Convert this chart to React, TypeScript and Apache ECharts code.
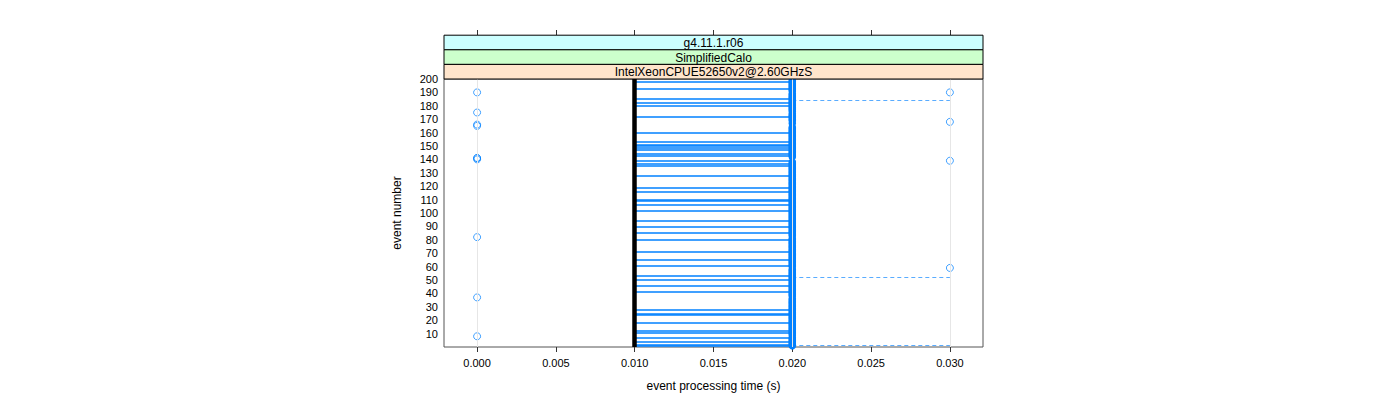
import React, { useEffect, useRef } from "react";
import * as echarts from "echarts";

// ---- data ----
const xTickValues = [0, 0.005, 0.01, 0.015, 0.02, 0.025, 0.03];
const stripLabels = ["g4.11.1.r06", "SimplifiedCalo", "IntelXeonCPUE52650v2@2.60GHzS"];
const stripColors = ["#ccffff", "#ccffcc", "#ffe5cc"];

// events whose time moved between 0.010 s and 0.020 s (horizontal segments)
const segmentEvents = [
  198, 193, 185, 182, 180, 172, 160, 153, 151, 150, 149, 147, 144, 143, 139, 137, 135,
  128, 119, 116, 110, 109, 106, 102, 94, 90, 85, 80, 71, 65, 61, 53, 50, 46, 41,
  28, 25, 24, 18, 12, 11, 7, 4, 2, 1,
];
// events at 0.020 s (points, forming a dense column)
const events020 = [
  1, 2, 3, 4, 5, 6, 7, 9, 10, 11, 12, 13, 14, 15, 16, 17, 18, 19, 20, 21, 22, 23, 24, 25,
  26, 27, 28, 29, 30, 31, 32, 33, 34, 35, 36, 38, 39, 40, 41, 42, 43, 44, 45, 46, 47, 48,
  49, 50, 51, 52, 53, 54, 55, 56, 57, 58, 60, 61, 62, 63, 64, 65, 66, 67, 68, 69, 70, 71,
  72, 73, 74, 75, 76, 77, 78, 79, 80, 81, 83, 84, 85, 86, 87, 88, 89, 90, 91, 92, 93, 94,
  95, 96, 97, 98, 99, 100, 101, 102, 103, 104, 105, 106, 107, 108, 109, 110, 111, 112,
  113, 114, 115, 116, 117, 118, 119, 120, 121, 122, 123, 124, 125, 126, 127, 128, 129,
  130, 131, 132, 133, 134, 135, 136, 137, 138, 142, 143, 144, 145, 146, 147, 148, 149,
  150, 151, 152, 153, 154, 155, 156, 157, 158, 159, 160, 161, 162, 163, 164, 167, 169,
  170, 171, 172, 173, 174, 176, 177, 178, 179, 180, 181, 182, 183, 184, 185, 186, 187,
  188, 189, 191, 192, 193, 194, 195, 196, 197, 198, 199,
];
// events at 0.000 s
const events000 = [8, 37, 82, 140, 141, 141, 165, 166, 175, 190];
// events at 0.030 s
const events030 = [59, 139, 168, 190];
// events with a jump between 0.020 s and 0.030 s (dashed segments)
const dashedEvents = [1, 52, 184];

const timeLow = 0.01;
const timeMid = 0.02;
const timeHigh = 0.03;
const timeZero = 0.0;

const xMin = -0.0021;
const xMax = 0.0321;

export default function App() {
  const ref = useRef<HTMLDivElement>(null);

  useEffect(() => {
    if (!ref.current) return;
    const chart = echarts.init(ref.current, null, { renderer: "svg" });
    const font = "Liberation Sans";
    const gridLeft = 444;
    const gridTop = 79;
    const gridW = 539;
    const gridH = 268;
    const stripH = 14.6;

    const graphics: any[] = [];
    stripLabels.forEach((lab, i) => {
      const y = gridTop - stripH * (stripLabels.length - i);
      graphics.push({
        type: "rect",
        shape: { x: gridLeft, y, width: gridW, height: stripH },
        style: { fill: stripColors[i], stroke: "#000", lineWidth: 1 },
        z: 10,
      });
      graphics.push({
        type: "text",
        style: {
          text: lab,
          x: gridLeft + gridW / 2,
          y: y + stripH / 2 + 0.5,
          align: "center",
          verticalAlign: "middle",
          font: `12px "${font}"`,
          fill: "#000",
        },
        z: 11,
      });
    });

    const circleStyle = { color: "rgba(0,0,0,0)", borderColor: "#0080ff", borderWidth: 1, opacity: 1 };

    const option: any = {
      animation: false,
      textStyle: { fontFamily: font },
      grid: {
        left: gridLeft,
        top: gridTop,
        width: gridW,
        height: gridH,
        show: true,
        borderColor: "#555",
        borderWidth: 1,
        backgroundColor: "#fff",
      },
      xAxis: [
        {
          type: "value",
          min: xMin,
          max: xMax,
          position: "bottom",
          name: "event processing time (s)",
          nameLocation: "middle",
          nameGap: 33,
          nameTextStyle: { fontSize: 12, color: "#000", fontFamily: font },
          axisLine: { show: false },
          splitLine: { show: false },
          axisTick: { show: true, length: 5, lineStyle: { color: "#333" }, customValues: xTickValues },
          axisLabel: {
            show: true,
            fontSize: 11,
            color: "#000",
            margin: 10,
            fontFamily: font,
            customValues: xTickValues,
            formatter: (v: number) => v.toFixed(3),
          },
        },
        {
          type: "value",
          min: xMin,
          max: xMax,
          position: "top",
          offset: 44,
          axisLine: { show: false },
          splitLine: { show: false },
          axisTick: { show: true, length: 5, lineStyle: { color: "#333" }, customValues: xTickValues },
          axisLabel: { show: false },
        },
      ],
      yAxis: {
        type: "value",
        min: 0,
        max: 200,
        interval: 10,
        name: "event number",
        nameLocation: "middle",
        nameGap: 41,
        nameRotate: 90,
        nameTextStyle: { fontSize: 12, color: "#000", fontFamily: font },
        axisLine: { show: false },
        axisTick: { show: false },
        splitLine: { show: false },
        axisLabel: {
          fontSize: 11,
          color: "#000",
          margin: 6,
          fontFamily: font,
          formatter: (v: number) => (v === 0 ? "" : String(v)),
        },
      },
      series: [
        {
          type: "line",
          data: [],
          silent: true,
          markLine: {
            silent: true,
            symbol: "none",
            label: { show: false },
            lineStyle: { color: "#e6e6e6", width: 1, type: "solid" },
            data: xTickValues.map((v) => ({ xAxis: v })),
          },
          z: 1,
        },
        {
          type: "lines",
          coordinateSystem: "cartesian2d",
          silent: true,
          lineStyle: { color: "#0080ff", width: 1.6, opacity: 1 },
          data: segmentEvents.map((e) => ({ coords: [[timeLow, e], [timeMid, e]] })),
          z: 3,
        },
        {
          type: "lines",
          coordinateSystem: "cartesian2d",
          silent: true,
          lineStyle: { color: "#0080ff", width: 1, opacity: 0.65, type: [4, 3] },
          data: dashedEvents.map((e) => ({ coords: [[timeMid, e], [timeHigh, e]] })),
          z: 3,
        },
        {
          type: "scatter",
          silent: true,
          symbol: "circle",
          symbolSize: 5,
          itemStyle: { ...circleStyle, borderWidth: 2.6 },
          data: events020.map((e) => [timeMid, e]),
          z: 4,
        },
        {
          type: "scatter",
          silent: true,
          symbol: "circle",
          symbolSize: 7,
          itemStyle: { ...circleStyle, opacity: 0.75 },
          data: events000.map((e) => [timeZero, e]).concat(events030.map((e) => [timeHigh, e])),
          z: 4,
        },
        {
          type: "lines",
          coordinateSystem: "cartesian2d",
          silent: true,
          lineStyle: { color: "#000", width: 4.5, opacity: 1 },
          data: [{ coords: [[timeLow, 0], [timeLow, 200]] }],
          z: 5,
        },
      ],
      graphic: graphics,
    };
    chart.setOption(option);
    return () => chart.dispose();
  }, []);

  return (
    <div
      ref={ref}
      style={{ position: "absolute", left: 0, top: 0, width: 1400, height: 400, background: "#fff" }}
    />
  );
}
